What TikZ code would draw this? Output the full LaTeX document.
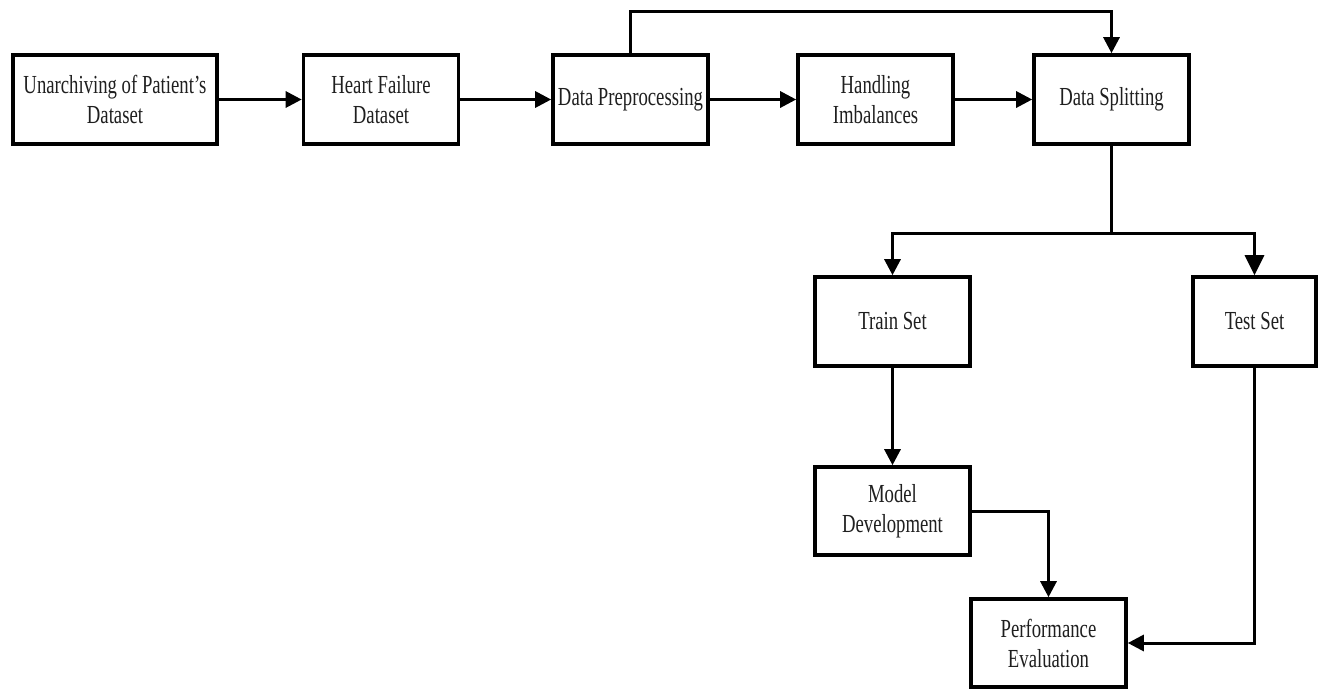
\documentclass[tikz,border=0pt]{standalone}
\usepackage{fontspec}
\setmainfont{Liberation Serif}[FakeStretch=0.72]
\usetikzlibrary{arrows.meta}
\begin{document}
\begin{tikzpicture}[x=1pt,y=-1pt,
  box/.style={draw=black,line width=3.6pt,fill=white,align=center,inner sep=2pt,
    minimum height=89pt,font=\fontsize{26}{30}\selectfont,text=black!88},
  conn/.style={line width=3pt,draw=black},
  arr/.style={conn,-{Triangle[length=16pt,width=16pt]}},
  bigarr/.style={conn,-{Triangle[length=20pt,width=19pt]}}]
\useasboundingbox (0,0) rectangle (1320,689);
\node[box,minimum width=204pt] (n1) at (115,99.5) {Unarchiving of Patient's\\Dataset};
\node[box,minimum width=155pt] (n2) at (381,99.5) {Heart Failure\\Dataset};
\node[box,minimum width=155pt] (n3) at (630.5,99.5) {Data Preprocessing};
\node[box,minimum width=155pt] (n4) at (875.5,99.5) {Handling\\Imbalances};
\node[box,minimum width=155pt] (n5) at (1111.5,99.5) {Data Splitting};
\node[box,minimum width=155pt] (train) at (892.5,321.5) {Train Set};
\node[box,minimum width=123pt] (test) at (1254.5,321.5) {Test Set};
\node[box,minimum width=155pt,minimum height=88pt] (model) at (892.5,511) {Model\\Development};
\node[box,minimum width=155pt,minimum height=88pt] (perf) at (1048.5,643) {Performance\\Evaluation};
\draw[arr] (n1) -- (n2);
\draw[arr] (n2) -- (n3);
\draw[arr] (n3) -- (n4);
\draw[arr] (n4) -- (n5);
\coordinate (top) at (n3.north |- 0,11);
\draw[arr] (n3.north) -- (top) -| (n5.north);
\coordinate (sp) at (n5.south |- 0,233);
\draw[conn] (n5.south) -- (sp);
\draw[arr] (sp) -| (train.north);
\draw[bigarr] (sp) -| (test.north);
\draw[arr] (train.south) -- (model.north);
\draw[arr] (model.east) -| (perf.north);
\draw[arr] (test.south) |- (perf.east);
\end{tikzpicture}
\end{document}
